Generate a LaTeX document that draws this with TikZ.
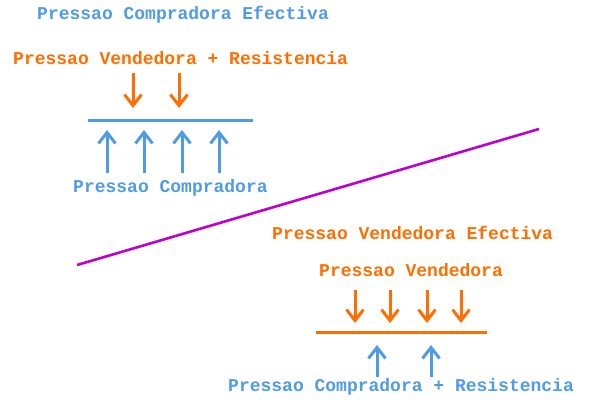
\documentclass[tikz,border=0pt]{standalone}
\usepackage{fontspec}
\setmonofont{Liberation Mono}
\usetikzlibrary{arrows.meta}
\definecolor{pblue}{RGB}{80,155,230}
\definecolor{porange}{RGB}{255,110,0}
\definecolor{ppurple}{RGB}{190,0,205}
\tikzset{
  lbl/.style={font=\ttfamily\bfseries\fontsize{18}{20}\selectfont, inner sep=0pt, anchor=west},
  arr/.style={line width=3pt, -{Straight Barb[length=11pt,width=17pt,line width=3pt]}},
  bar/.style={line width=3pt},
}
\begin{document}
\begin{tikzpicture}[x=1pt,y=-1pt]
\useasboundingbox (0,0) rectangle (593,405);
% top group
\node[lbl, text=pblue] (t1) at (37,15) {Pressao Compradora Efectiva};
\node[lbl, text=porange] (t2) at (13,58) {Pressao Vendedora + Resistencia};
\coordinate (a1s) at (133,73); \coordinate (a1e) at (133,108);
\coordinate (a2s) at (179,73); \coordinate (a2e) at (179,108);
\draw[arr, porange] (a1s) -- (a1e);
\draw[arr, porange] (a2s) -- (a2e);
\coordinate (l1a) at (88,120); \coordinate (l1b) at (253,120);
\draw[bar, pblue] (l1a) -- (l1b);
\foreach \x [count=\i] in {107,144,182,219}{
  \coordinate (b\i s) at (\x,173); \coordinate (b\i e) at (\x,130);
  \draw[arr, pblue] (b\i s) -- (b\i e);
}
\node[lbl, text=pblue] (t3) at (73,188) {Pressao Compradora};
% diagonal
\coordinate (d1) at (77,265); \coordinate (d2) at (539,129);
\draw[line width=2.6pt, ppurple] (d1) -- (d2);
% bottom group
\node[lbl, text=porange] (t4) at (272,233) {Pressao Vendedora Efectiva};
\node[lbl, text=porange] (t5) at (319,270) {Pressao Vendedora};
\foreach \x [count=\i] in {355,390,427,461}{
  \coordinate (c\i s) at (\x,290); \coordinate (c\i e) at (\x,323);
  \draw[arr, porange] (c\i s) -- (c\i e);
}
\coordinate (l2a) at (316,332); \coordinate (l2b) at (487,332);
\draw[bar, porange] (l2a) -- (l2b);
\foreach \x [count=\i] in {377,431}{
  \coordinate (e\i s) at (\x,377); \coordinate (e\i e) at (\x,345);
  \draw[arr, pblue] (e\i s) -- (e\i e);
}
\node[lbl, text=pblue] (t6) at (228,387) {Pressao Compradora + Resistencia};
\end{tikzpicture}
\end{document}
